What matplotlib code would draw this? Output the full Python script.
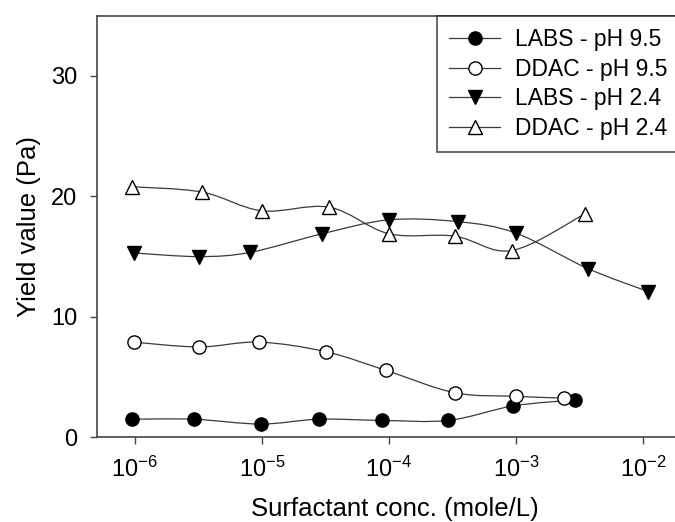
import matplotlib
matplotlib.use("Agg")
import matplotlib.pyplot as plt
import numpy as np
from matplotlib.path import Path
from matplotlib.patches import PathPatch
from matplotlib.lines import Line2D

plt.rcParams["font.family"] = ["Liberation Sans", "DejaVu Sans"]
plt.rcParams["mathtext.fontset"] = "custom"
plt.rcParams["mathtext.rm"] = "Liberation Sans"

# yield value vs surfactant concentration
labs_95_x = [9.5e-7, 2.9e-6, 9.8e-6, 2.8e-5, 8.9e-5, 2.95e-4, 9.5e-4, 2.9e-3]
labs_95_y = [1.5, 1.5, 1.1, 1.5, 1.4, 1.4, 2.6, 3.1]

ddac_95_x = [9.8e-7, 3.2e-6, 9.5e-6, 3.2e-5, 9.5e-5, 3.3e-4, 1.0e-3, 2.4e-3]
ddac_95_y = [7.9, 7.5, 7.9, 7.1, 5.55, 3.7, 3.4, 3.25]

labs_24_x = [9.8e-7, 3.2e-6, 8.1e-6, 3.0e-5, 1.0e-4, 3.5e-4, 1.0e-3, 3.7e-3, 1.1e-2]
labs_24_y = [15.3, 15.0, 15.35, 16.9, 18.05, 17.9, 16.95, 14.0, 12.1]

ddac_24_x = [9.5e-7, 3.4e-6, 1.0e-5, 3.4e-5, 1.0e-4, 3.3e-4, 9.3e-4, 3.5e-3]
ddac_24_y = [20.8, 20.35, 18.8, 19.1, 16.9, 16.7, 15.5, 18.55]

labels = ["LABS - pH 9.5", "DDAC - pH 9.5", "LABS - pH 2.4", "DDAC - pH 2.4"]
markers = ["o", "o", "v", "^"]
facecolors = ["black", "white", "black", "white"]

series = [
    (labs_95_x, labs_95_y),
    (ddac_95_x, ddac_95_y),
    (labs_24_x, labs_24_y),
    (ddac_24_x, ddac_24_y),
]


def smooth_path(xs, ys):
    # cubic bezier through the points, tangents taken in log-x space
    lx = np.log10(xs)
    y = np.asarray(ys, dtype=float)
    n = len(lx)
    verts = [(xs[0], y[0])]
    codes = [Path.MOVETO]
    for i in range(n - 1):
        i0 = max(i - 1, 0)
        i3 = min(i + 2, n - 1)
        c1 = (lx[i] + (lx[i + 1] - lx[i0]) / 6, y[i] + (y[i + 1] - y[i0]) / 6)
        c2 = (lx[i + 1] - (lx[i3] - lx[i]) / 6, y[i + 1] - (y[i3] - y[i]) / 6)
        verts += [(10 ** c1[0], c1[1]), (10 ** c2[0], c2[1]), (xs[i + 1], y[i + 1])]
        codes += [Path.CURVE4] * 3
    return Path(verts, codes)


fig = plt.figure(figsize=(6.75, 5.22), dpi=100)
ax = fig.add_axes([0.1433, 0.1623, 0.8843, 0.8077])

handles = []
for (xs, ys), lab, m, fc in zip(series, labels, markers, facecolors):
    ax.add_patch(PathPatch(smooth_path(xs, ys), facecolor="none",
                           edgecolor="#3a3a3a", lw=0.9, zorder=2))
    ax.plot(xs, ys, linestyle="none", marker=m, markersize=9.5,
            markerfacecolor=fc, markeredgecolor="black", markeredgewidth=1, zorder=3)
    handles.append(Line2D([], [], color="#3a3a3a", lw=0.9, marker=m, markersize=9.5,
                          markerfacecolor=fc, markeredgecolor="black",
                          markeredgewidth=1))

ax.set_xscale("log")
ax.set_xlim(10 ** -6.3, 10 ** -1.6)
ax.set_ylim(0, 35)
ax.set_xticks([1e-6, 1e-5, 1e-4, 1e-3, 1e-2])
ax.xaxis.set_minor_locator(matplotlib.ticker.NullLocator())
ax.set_yticks([0, 10, 20, 30])

for s in ax.spines.values():
    s.set_color("#444444")
    s.set_linewidth(1.2)
ax.tick_params(axis="both", direction="out", length=5, width=1, color="#444444",
               labelsize=17)
ax.tick_params(axis="x", pad=9)
ax.tick_params(axis="y", pad=9)

ax.set_xlabel("Surfactant conc. (mole/L)", fontsize=18.5, labelpad=11)
ax.set_ylabel("Yield value (Pa)", fontsize=18.5, labelpad=7)

leg = fig.legend(handles, labels, loc="upper left",
                 bbox_to_anchor=(436.7 / 675, 1 - 15.7 / 522),
                 bbox_transform=fig.transFigure, borderaxespad=0,
                 fontsize=16.5, frameon=True, fancybox=False,
                 handlelength=2.2, handletextpad=0.65, labelspacing=0.28,
                 borderpad=0.55)
leg.get_frame().set_edgecolor("#222222")
leg.get_frame().set_linewidth(1.2)

fig.savefig("out.png", dpi=100)
